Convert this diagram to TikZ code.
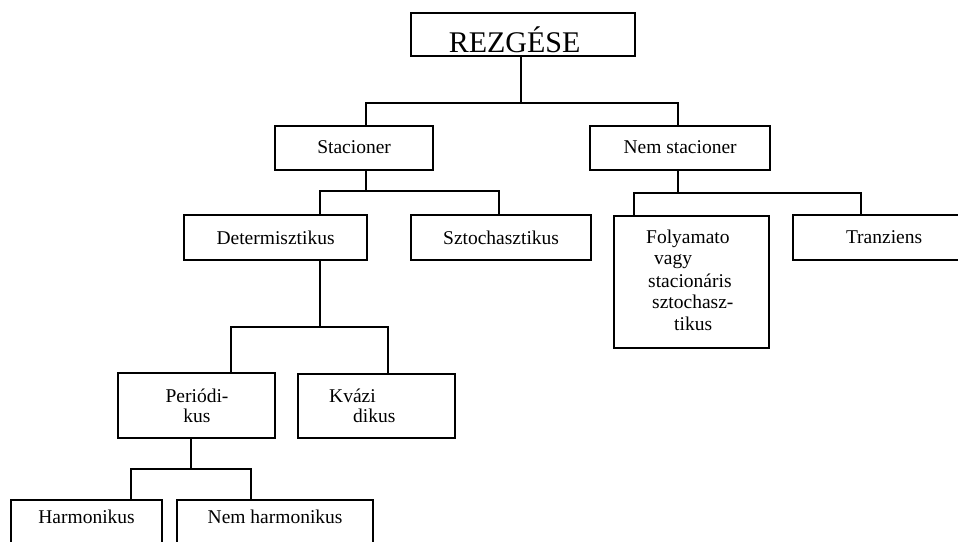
\documentclass[tikz,border=0pt]{standalone}
\usepackage{fontspec}
\setmainfont{Liberation Serif}
\usepackage{tikz}

\newcommand{\boxfont}{\fontsize{19.5}{21.7}\selectfont}

\tikzset{
  box/.style={draw, line width=2.2pt, inner sep=0pt, anchor=north west, font=\boxfont},
  link/.style={line width=2.2pt},
  lbl/.style={inner sep=0pt, anchor=base, font=\boxfont}
}

\begin{document}
\begin{tikzpicture}[x=1pt,y=-1pt]
  \useasboundingbox (0,0) rectangle (958,541);
  \clip (0,0) rectangle (958,541);

  % Boxes
  \node[box, minimum width=224, text height=39, text depth=4, font=\fontsize{30}{34}\selectfont]
    (root) at (410,12) {REZGÉSE\kern17pt};
  \node[box, minimum width=158, text height=27, text depth=17] (stac) at (274,125) {Stacioner};
  \node[box, minimum width=180, text height=27, text depth=17] (nem) at (589,125) {Nem stacioner};
  \node[box, minimum width=183, text height=29, text depth=16] (det) at (183,214) {Determisztikus};
  \node[box, minimum width=180, text height=29, text depth=16] (szto) at (410,214) {Sztochasztikus};
  \node[box, minimum width=155, minimum height=132] (foly) at (613,215) {};
  \node[box, minimum width=182, text height=28, text depth=17] (tran) at (792,214) {Tranziens};
  \node[box, minimum width=157, minimum height=65] (peri) at (117,372) {};
  \node[box, minimum width=157, minimum height=64] (kvaz) at (297,373) {};
  \node[box, minimum width=151, text height=23, text depth=37] (harm) at (10,499) {Harmonikus};
  \node[box, minimum width=196, text height=23, text depth=37] (nharm) at (176,499) {Nem harmonikus};

  % Texts of the boxes with more lines
  \foreach \i/\xl/\yb/\t in {1/646/243/Folyamato, 2/654/264/vagy, 3/648/287/stacionáris,
                             4/652/308/sztochasz-, 5/674/330/tikus}
    \node[lbl, anchor=base west] (foly-\i) at (\xl,\yb) {\t};
  \node[lbl] (peri-1) at (197,402) {Periódi-};
  \node[lbl] (peri-2) at (197,422) {kus};
  \node[lbl, anchor=base west] (kvaz-1) at (329,402) {Kvázi};
  \node[lbl, anchor=base west] (kvaz-2) at (353,422) {dikus};

  % Junctions
  \coordinate (j1) at (521,103);
  \coordinate (b1l) at (366,103);
  \coordinate (b1r) at (678,103);
  \coordinate (j2) at (366,191);
  \coordinate (b2l) at (320,191);
  \coordinate (b2r) at (499,191);
  \coordinate (j3) at (678,193);
  \coordinate (b3l) at (634,193);
  \coordinate (b3r) at (861,193);
  \coordinate (j4) at (320,327);
  \coordinate (b4l) at (231,327);
  \coordinate (b4r) at (388,327);
  \coordinate (j5) at (191,469);
  \coordinate (b5l) at (131,469);
  \coordinate (b5r) at (251,469);

  % Connectors
  \draw[link] (root.south -| j1) -- (j1);
  \draw[link] (stac.north -| b1l) |- (b1r) -- (nem.north -| b1r);
  \draw[link] (stac.south -| j2) -- (j2);
  \draw[link] (det.north -| b2l) |- (b2r) -- (szto.north -| b2r);
  \draw[link] (nem.south -| j3) -- (j3);
  \draw[link] (foly.north -| b3l) |- (b3r) -- (tran.north -| b3r);
  \draw[link] (det.south -| j4) -- (j4);
  \draw[link] (peri.north -| b4l) |- (b4r) -- (kvaz.north -| b4r);
  \draw[link] (peri.south -| j5) -- (j5);
  \draw[link] (harm.north -| b5l) |- (b5r) -- (nharm.north -| b5r);
\end{tikzpicture}
\end{document}
